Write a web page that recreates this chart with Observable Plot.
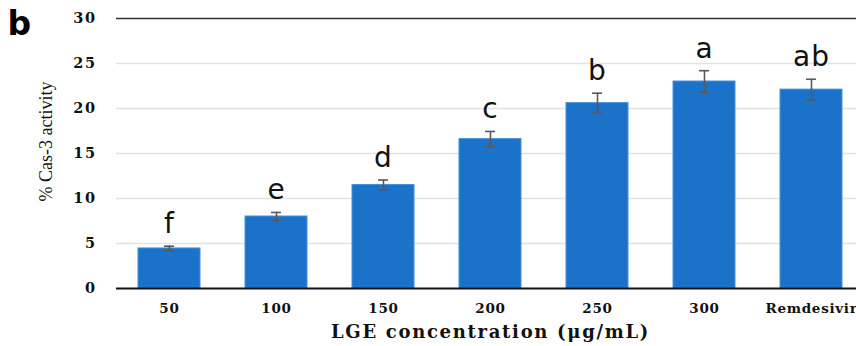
<!DOCTYPE html>
<html>
<head>
<meta charset="utf-8">
<script src="https://cdn.jsdelivr.net/npm/d3@7"></script>
<script src="https://cdn.jsdelivr.net/npm/@observablehq/plot@0.6"></script>
<style>
  html, body { margin: 0; padding: 0; background: #fff; overflow: hidden; }
  #chart svg { display: block; }
</style>
</head>
<body>
<div id="chart"></div>
<script>
const categories = ["50", "100", "150", "200", "250", "300", "Remdesivir"];
const activity = [4.45, 8.0, 11.5, 16.6, 20.6, 23.0, 22.1];
const errors = [0.25, 0.45, 0.55, 0.85, 1.1, 1.2, 1.15];
const letters = ["f", "e", "d", "c", "b", "a", "ab"];
const yTicks = [0, 5, 10, 15, 20, 25, 30];
const gridTicks = [5, 10, 15, 20, 25];
const yTitle = "% Cas-3 activity";
const xTitle = "LGE concentration (μg/mL)";

const data = categories.map((c, i) => ({
  cat: c, value: activity[i], err: errors[i], letter: letters[i]
}));

const serif = "'DejaVu Serif', serif";
const chart = Plot.plot({
  width: 856,
  height: 346,
  marginLeft: 116,
  marginRight: 0,
  marginTop: 18,
  marginBottom: 58,
  style: { background: "#fff", fontFamily: serif, overflow: "hidden" },
  x: { domain: categories, range: [116, 865], paddingInner: 0.42, paddingOuter: 0.21, label: null, axis: null },
  y: { domain: [0, 30], label: null, axis: null },
  marks: [
    Plot.gridY(gridTicks, { stroke: "#e2e2e2", strokeOpacity: 1, strokeWidth: 1.5 }),
    Plot.barY(data, { x: "cat", y: "value", fill: "#1a73c9", stroke: "#4a90d9", strokeWidth: 1 }),
    Plot.ruleX(data, { x: "cat", y1: d => d.value - d.err, y2: d => d.value + d.err, stroke: "#595959", strokeWidth: 1.6 }),
    Plot.tickY(data, { x: "cat", y: d => d.value + d.err, stroke: "#595959", strokeWidth: 1.6, insetLeft: 26, insetRight: 26 }),
    Plot.tickY(data, { x: "cat", y: d => d.value - d.err, stroke: "#595959", strokeWidth: 1.6, insetLeft: 26, insetRight: 26 }),
    Plot.text(data, { x: "cat", y: d => d.value + d.err, text: "letter", dy: -13, lineAnchor: "bottom",
      fontFamily: "'DejaVu Sans', sans-serif", fontSize: 28, fill: "#111" }),
    Plot.ruleY([30], { stroke: "#333", strokeWidth: 1.5 }),
    Plot.ruleY([0], { stroke: "#111", strokeWidth: 2 }),
    Plot.ruleX([0], { x: () => 116, stroke: "#111", strokeWidth: 2 }),
    Plot.text(yTicks, { y: d => d, frameAnchor: "left", textAnchor: "end", dx: -21.5, lineAnchor: "middle",
      fontSize: 14.5, fontWeight: "bold", fontFamily: serif, fill: "#111" }),
    Plot.text(categories, { x: d => d, frameAnchor: "bottom", dy: 20, lineAnchor: "middle",
      fontSize: 13.5, fontWeight: "bold", fontFamily: serif, fill: "#111" }),
    Plot.text([yTitle], { frameAnchor: "left", textAnchor: "middle", rotate: -90, dx: -70, dy: -12, lineAnchor: "middle",
      fontFamily: "'Liberation Serif', serif", fontSize: 18, fill: "#111" }),
    Plot.text([xTitle], { frameAnchor: "bottom", dx: 4, dy: 44, lineAnchor: "middle",
      fontFamily: serif, fontWeight: "bold", fontSize: 18, fill: "#111" }),
    Plot.text(["b"], { frameAnchor: "top-left", dx: -109, dy: 6, lineAnchor: "middle",
      fontFamily: "'DejaVu Sans', sans-serif", fontWeight: "bold", fontSize: 33, fill: "#000" })
  ]
});
const spacing = (t) => {
  if (t === "Remdesivir") return 0.7;
  if (t === xTitle) return 1.7;
  if (yTicks.map(String).includes(t)) return null;
  if (categories.includes(t)) return 0.8;
  if (letters.includes(t)) return 1;
  return null;
};
d3.select(chart).selectAll("text").each(function () {
  const t = this.textContent;
  const s = spacing(t);
  if (s != null) d3.select(this).style("letter-spacing", s + "px");
});
// y tick labels (text-anchor end): add spacing, shifting right by the trailing space
d3.select(chart).selectAll("text").filter(function () {
  return this.getAttribute("text-anchor") === "end" || (this.parentNode && this.parentNode.getAttribute("text-anchor") === "end");
}).style("letter-spacing", "1.5px").attr("dx", 1.5);
document.getElementById("chart").appendChild(chart);
</script>
</body>
</html>
